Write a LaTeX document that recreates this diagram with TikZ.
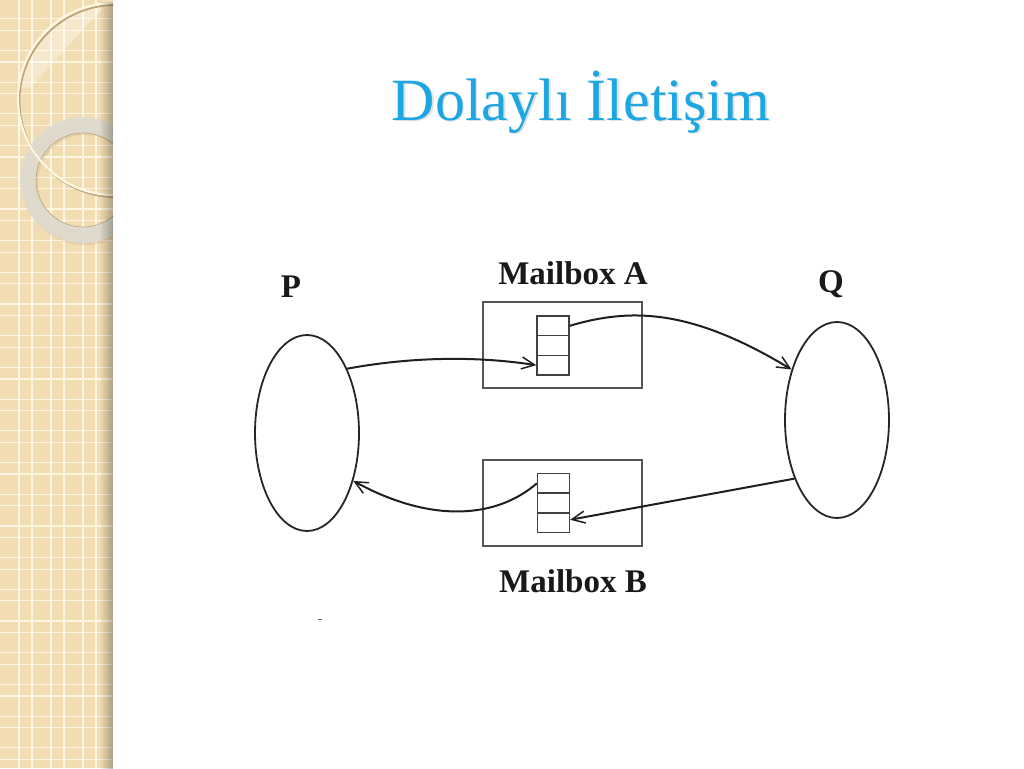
\documentclass[tikz,border=0pt]{standalone}
\usepackage{fontspec}
\setmainfont{Liberation Serif}
\usetikzlibrary{arrows.meta,shapes.geometric,fadings}
\tikzfading[name=fadeR, left color=transparent!100, right color=transparent!0]
\definecolor{beige}{RGB}{242,221,178}
\definecolor{gridc}{RGB}{253,246,226}
\definecolor{ringc}{RGB}{222,219,210}
\definecolor{shadowc}{RGB}{190,165,120}
\definecolor{titleblue}{RGB}{28,166,226}
\definecolor{boxc}{RGB}{85,85,85}
\begin{document}
\begin{tikzpicture}[x=1pt,y=-1pt,
  proc/.style={ellipse, draw=black!85, line width=1.8pt, minimum width=104pt, minimum height=196pt, inner sep=0pt},
  mbox/.style={rectangle, draw=boxc, line width=1.4pt, minimum width=159pt, minimum height=86pt, inner sep=0pt},
  cell/.style={rectangle, draw=black!75, line width=1.4pt, minimum width=32pt, minimum height=19.7pt, inner sep=0pt},
  lbl/.style={font=\fontsize{33}{40}\selectfont\bfseries, anchor=base, inner sep=0pt, text=black!90},
  conn/.style={draw=black!88, line width=2pt, -{Straight Barb[length=13pt,width=12pt,line width=1.5pt]}},
  titlestyle/.style={font=\fontsize{60}{72}\selectfont, anchor=base, inner sep=0pt}]
\useasboundingbox (0,0) rectangle (1024,768);
\fill[white] (0,0) rectangle (1024,768);
% decorative strip
\begin{scope}
  \clip (0,0) rectangle (113,768);
  \fill[beige] (0,0) rectangle (113,768);
  \foreach \k in {0,...,24} {
    \draw[gridc, line width=1.2pt] (0,{18.7+31.7*\k}) -- (113,{18.7+31.7*\k});
    \draw[gridc, line width=1.2pt] (0,{30.2+31.7*\k}) -- (113,{30.2+31.7*\k});
  }
  \foreach \x in {19,32,51,64,83,96} {
    \draw[gridc, line width=1.2pt] (\x,0) -- (\x,768);
  }
  % light region in big circle
  \begin{scope}
    \clip (114,99) circle (96);
    \fill[white, fill opacity=0.35] (0,0) -- (0,88) -- (30,88) -- (110,0) -- cycle;
  \end{scope}
  % grey ring
  \fill[shadowc, fill opacity=0.25, even odd rule] (85,182) circle (63) (85,182) circle (47);
  \fill[ringc, fill opacity=0.85, even odd rule] (83,180) circle (63) (83,180) circle (47);
  \draw[shadowc, line width=0.6pt] (83,180) circle (47);
  % big circle line
  \draw[shadowc, line width=1.8pt] (115.5,101) circle (96);
  \draw[gridc, line width=2.2pt] (114,99) circle (96);
  % right shadow
  \fill[black, path fading=fadeR, fill opacity=0.28] (99,0) rectangle (113,768);
\end{scope}
% title
\node[titlestyle, text=black, opacity=0.12] at (582.5,121.5) {Dolaylı İletişim};
\node[titlestyle, text=titleblue] (title) at (581,120) {Dolaylı İletişim};
% processes
\node[proc] (P) at (307,433) {};
\node[proc] (Q) at (837,420) {};
\node[lbl] (labP) at (291,297) {P};
\node[lbl] (labQ) at (831,292) {Q};
% mailboxes
\node[mbox] (A) at (562.5,345) {};
\node[cell] (a1) at (553,325.8) {};
\node[cell] (a2) at (553,345.5) {};
\node[cell] (a3) at (553,365.2) {};
\node[lbl] (labA) at (573,284) {Mailbox A};
\node[mbox] (B) at (562.5,503) {};
\node[cell] (b1) at (553.5,483.3) {};
\node[cell] (b2) at (553.5,503) {};
\node[cell] (b3) at (553.5,522.7) {};
\node[lbl] (labB) at (573,592) {Mailbox B};
% connectors
\draw[conn] (P.58) .. controls (405,358) and (470,355) .. (a3.west);
\draw[conn] (a1.east) .. controls (630,308) and (690,308) .. (Q.132);
\draw[conn] (Q.234) -- (b3.10);
\draw[conn] (b1.west) .. controls (497,518) and (432,524) .. (P.-46);
% small mark
\draw[black!60, line width=1pt] (318,619) -- (322,619);
\end{tikzpicture}
\end{document}
